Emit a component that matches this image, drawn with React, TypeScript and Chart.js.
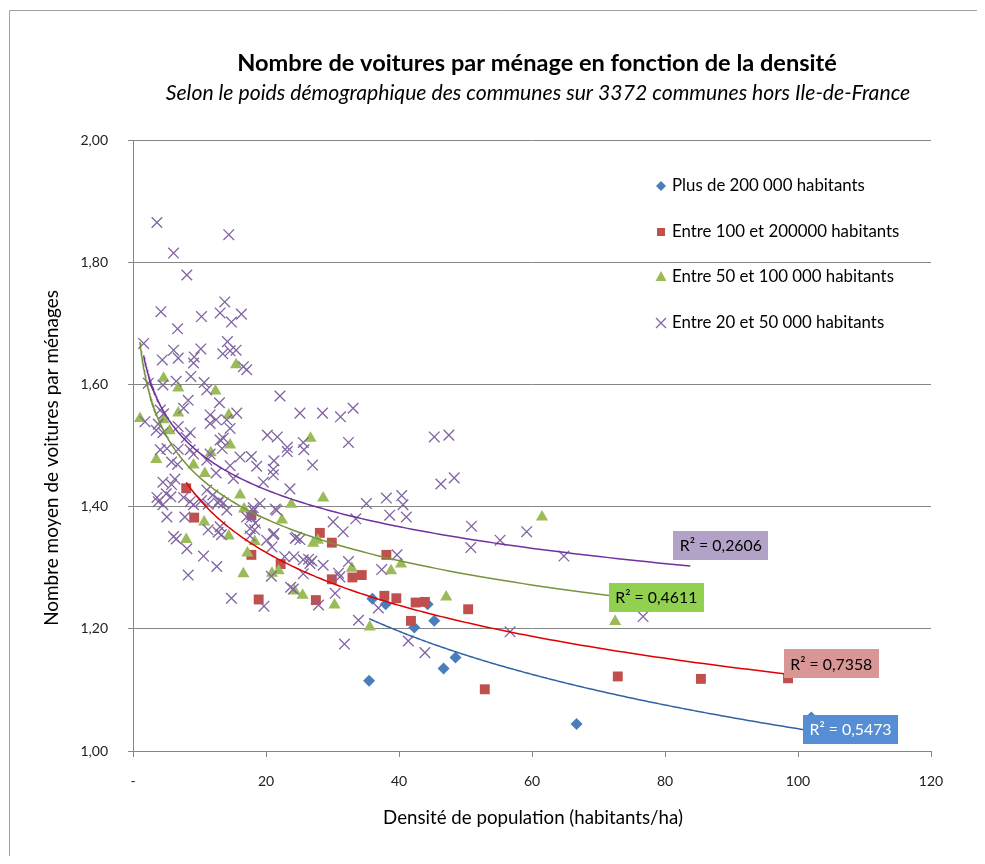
import React, { useEffect, useRef } from 'react';
import { Chart, registerables } from 'chart.js';

Chart.register(...registerables);

const FONT = 'Lato, "Open Sans", "DejaVu Sans", sans-serif';

const TITLE = 'Nombre de voitures par ménage en fonction de la densité';
const SUBTITLE = 'Selon le poids démographique des communes sur 3372 communes hors Ile-de-France';
const X_TITLE = 'Densité de population (habitants/ha)';
const Y_TITLE = 'Nombre moyen de voitures par ménages';

const SERIES_LABELS = [
  'Plus de 200 000 habitants',
  'Entre 100 et 200000 habitants',
  'Entre 50 et 100 000 habitants',
  'Entre 20 et 50 000 habitants',
];
const R2_TEXTS = ['R² = 0,5473', 'R² = 0,7358', 'R² = 0,4611', 'R² = 0,2606'];
// centre of each R² label, in data units
const R2_LABEL_X = [107.9, 105.0, 78.7, 88.4];
const R2_LABEL_Y = [1.036, 1.143, 1.252, 1.337];

const X_TICKS = [0, 20, 40, 60, 80, 100, 120];
const Y_TICKS = [1.0, 1.2, 1.4, 1.6, 1.8, 2.0];

// Plus de 200 000 habitants
const BIG_X = [35.5, 36.0, 38.0, 42.3, 44.3, 45.3, 46.7, 48.5, 66.7, 102.0];
const BIG_Y = [1.115, 1.249, 1.240, 1.202, 1.240, 1.213, 1.135, 1.153, 1.044, 1.055];

// Entre 100 et 200000 habitants
const LARGE_X = [8.0, 9.2, 17.8, 17.8, 18.9, 22.2, 27.5, 28.1, 29.9, 29.9, 33.0, 34.4, 37.8, 38.1, 39.6, 41.8, 42.5, 43.9, 50.4, 52.9, 72.9, 85.4, 98.5];
const LARGE_Y = [1.430, 1.382, 1.386, 1.321, 1.248, 1.306, 1.247, 1.357, 1.341, 1.281, 1.284, 1.288, 1.254, 1.321, 1.250, 1.213, 1.243, 1.244, 1.232, 1.101, 1.122, 1.118, 1.119];

// Entre 50 et 100 000 habitants
const MEDIUM_X = [1.05, 3.5, 4.6, 4.6, 5.5, 6.8, 6.8, 8.0, 9.1, 10.7, 10.8, 11.7, 12.4, 14.4, 14.4, 14.6, 15.5, 16.1, 16.7, 16.6, 17.2, 18.3, 20.9, 21.9, 22.4, 23.8, 24.3, 25.5, 26.7, 27.1, 27.8, 28.6, 30.3, 32.9, 35.6, 38.8, 40.3, 47.1, 61.5, 72.5];
const MEDIUM_Y = [1.544, 1.477, 1.610, 1.542, 1.524, 1.594, 1.553, 1.346, 1.468, 1.375, 1.454, 1.488, 1.589, 1.550, 1.352, 1.501, 1.632, 1.419, 1.396, 1.290, 1.324, 1.343, 1.291, 1.295, 1.378, 1.404, 1.262, 1.255, 1.512, 1.340, 1.345, 1.414, 1.239, 1.299, 1.203, 1.295, 1.306, 1.252, 1.383, 1.212];

// Entre 20 et 50 000 habitants
const SMALL_X = [
  3.6, 14.4, 6.1, 8.1, 4.2, 6.7, 10.3, 13.8, 13.1, 14.8,
  16.3, 1.6, 4.4, 6.1, 6.8, 9.2, 9.1, 10.2, 13.5, 14.2,
  14.6, 15.5, 16.6, 17.1, 8.7, 6.5, 22.1, 10.7, 11.1, 2.3,
  4.5, 8.3, 13.0, 4.1, 4.6, 7.6, 25.1, 28.5, 31.2, 33.1,
  11.6, 12.5, 15.6, 14.1, 1.8, 3.8, 3.5, 6.8, 11.6, 14.6,
  4.5, 8.6, 8.0, 20.2, 21.7, 13.1, 13.6, 23.2, 23.2, 25.6,
  25.7, 32.4, 27.0, 4.1, 5.1, 6.8, 8.6, 9.1, 11.6, 13.4,
  5.8, 6.7, 11.1, 16.1, 17.8, 18.6, 21.2, 21.1, 21.1, 14.6,
  12.5, 15.1, 4.5, 5.8, 6.3, 19.6, 23.6, 3.6, 5.0, 5.7,
  7.6, 11.1, 12.0, 10.3, 4.5, 9.1, 13.0, 14.1, 19.1, 18.1,
  21.4, 17.1, 5.1, 7.8, 18.4, 13.1, 12.8, 13.3, 11.3, 6.1,
  6.5, 8.1, 10.6, 12.6, 8.3, 14.8, 19.7, 20.1, 21.1, 20.9,
  24.4, 22.8, 25.6, 26.6, 26.9, 28.6, 31.1, 30.9, 24.1, 23.7,
  30.1, 31.6, 32.4, 35.1, 38.1, 38.6, 40.4, 40.6, 37.4, 36.9,
  33.9, 30.4, 27.9, 45.3, 47.5, 46.3, 48.3, 50.9, 50.8, 55.2,
  59.2, 64.8, 56.7, 76.7, 41.4, 43.9, 31.8, 33.5, 41.1, 3.8,
  8.6, 11.3, 12.8, 13.6, 17.8, 17.6, 18.3, 17.6, 21.2, 20.8,
  18.1, 24.6, 21.6, 39.7, 25.6, 26.4, 25.1, 24.2, 83.8,
];
const SMALL_Y = [
  1.865, 1.845, 1.815, 1.779, 1.719, 1.691, 1.711, 1.735, 1.717, 1.702,
  1.715, 1.667, 1.640, 1.656, 1.643, 1.645, 1.635, 1.658, 1.650, 1.670,
  1.655, 1.656, 1.629, 1.624, 1.613, 1.605, 1.581, 1.603, 1.591, 1.602,
  1.599, 1.574, 1.570, 1.558, 1.552, 1.561, 1.553, 1.553, 1.547, 1.561,
  1.550, 1.542, 1.553, 1.542, 1.539, 1.535, 1.525, 1.531, 1.536, 1.528,
  1.521, 1.521, 1.513, 1.517, 1.514, 1.509, 1.512, 1.497, 1.490, 1.505,
  1.493, 1.505, 1.468, 1.493, 1.495, 1.494, 1.493, 1.486, 1.486, 1.495,
  1.473, 1.469, 1.476, 1.481, 1.482, 1.466, 1.475, 1.461, 1.452, 1.467,
  1.455, 1.446, 1.440, 1.436, 1.445, 1.440, 1.429, 1.415, 1.421, 1.416,
  1.415, 1.427, 1.419, 1.410, 1.403, 1.403, 1.410, 1.394, 1.405, 1.398,
  1.396, 1.383, 1.383, 1.383, 1.373, 1.367, 1.358, 1.354, 1.362, 1.351,
  1.347, 1.331, 1.319, 1.302, 1.288, 1.250, 1.237, 1.345, 1.354, 1.334,
  1.348, 1.318, 1.313, 1.307, 1.311, 1.304, 1.285, 1.291, 1.265, 1.268,
  1.375, 1.359, 1.310, 1.405, 1.414, 1.386, 1.418, 1.403, 1.297, 1.234,
  1.214, 1.258, 1.239, 1.514, 1.517, 1.437, 1.447, 1.368, 1.333, 1.345,
  1.359, 1.319, 1.195, 1.220, 1.180, 1.161, 1.175, 1.380, 1.383, 1.408,
  1.408, 1.404, 1.406, 1.406, 1.382, 1.364, 1.362, 1.352, 1.356, 1.286,
  1.393, 1.350, 1.394, 1.321, 1.290, 1.314, 1.346, 1.318, 1.340,
];

const SERIES_X = [BIG_X, LARGE_X, MEDIUM_X, SMALL_X];
const SERIES_Y = [BIG_Y, LARGE_Y, MEDIUM_Y, SMALL_Y];

// styles
const MARKER_COLORS = ['#4a7ebb', '#c0504d', '#9bbb59', '#8064a2'];
const TREND_COLORS = ['#2f64a3', '#e00000', '#76933c', '#7030a0'];
const LABEL_FILLS = ['#558ed5', '#d99694', '#92d050', '#b3a2c7'];
const LABEL_TEXT = ['#ffffff', '#000000', '#000000', '#000000'];
const POINT_STYLES = ['rectRot', 'rect', 'triangle', 'crossRot'];
const POINT_RADII = [6, 7, 7, 7.5];

// canvas sits inside the body margin: page coordinates = canvas + OFF
const OFF = 8;
const CANVAS_W = 977;
const CANVAS_H = 848;

function logFit(xs: number[], ys: number[]) {
  const n = xs.length;
  const lx = xs.map((v) => Math.log(v));
  const mx = lx.reduce((s, v) => s + v, 0) / n;
  const my = ys.reduce((s, v) => s + v, 0) / n;
  let sxy = 0;
  let sxx = 0;
  for (let i = 0; i < n; i++) {
    sxy += (lx[i] - mx) * (ys[i] - my);
    sxx += (lx[i] - mx) * (lx[i] - mx);
  }
  const a = sxy / sxx;
  return { a, b: my - a * mx };
}

function trendline(xs: number[], ys: number[]) {
  const { a, b } = logFit(xs, ys);
  const lo = Math.min(...xs);
  const hi = Math.max(...xs);
  const pts: { x: number; y: number }[] = [];
  const N = 200;
  for (let i = 0; i <= N; i++) {
    const x = lo * Math.pow(hi / lo, i / N);
    pts.push({ x, y: a * Math.log(x) + b });
  }
  return pts;
}

function fitSize(ctx: CanvasRenderingContext2D, text: string, style: string, target: number) {
  const base = 20;
  ctx.font = `${style} ${base}px ${FONT}`;
  const w = ctx.measureText(text).width;
  return (base * target) / w;
}

function drawMarker(ctx: CanvasRenderingContext2D, kind: number, x: number, y: number) {
  ctx.save();
  ctx.fillStyle = MARKER_COLORS[kind];
  ctx.strokeStyle = MARKER_COLORS[kind];
  ctx.beginPath();
  if (kind === 0) {
    const r = 5;
    ctx.moveTo(x - r, y);
    ctx.lineTo(x, y - r);
    ctx.lineTo(x + r, y);
    ctx.lineTo(x, y + r);
    ctx.closePath();
    ctx.fill();
  } else if (kind === 1) {
    ctx.rect(x - 4, y - 4, 8, 8);
    ctx.fill();
  } else if (kind === 2) {
    ctx.moveTo(x, y - 6);
    ctx.lineTo(x + 5.5, y + 4);
    ctx.lineTo(x - 5.5, y + 4);
    ctx.closePath();
    ctx.fill();
  } else {
    const r = 5;
    ctx.lineWidth = 1.2;
    ctx.moveTo(x - r, y - r);
    ctx.lineTo(x + r, y + r);
    ctx.moveTo(x + r, y - r);
    ctx.lineTo(x - r, y + r);
    ctx.stroke();
  }
  ctx.restore();
}

const overlayPlugin = {
  id: 'overlay',
  beforeDraw(chart: any) {
    const ctx: CanvasRenderingContext2D = chart.ctx;
    ctx.save();
    ctx.fillStyle = '#ffffff';
    ctx.fillRect(0, 0, chart.width, chart.height);
    ctx.translate(-OFF, -OFF);
    ctx.strokeStyle = '#a0a0a0';
    ctx.lineWidth = 1;
    ctx.beginPath();
    ctx.moveTo(9.5, 900);
    ctx.lineTo(9.5, 10.5);
    ctx.lineTo(1000, 10.5);
    ctx.stroke();
    ctx.restore();
  },
  afterDraw(chart: any) {
    const ctx: CanvasRenderingContext2D = chart.ctx;
    const xs = chart.scales.x;
    const ys = chart.scales.y;
    ctx.save();
    ctx.translate(-OFF, -OFF);
    ctx.fillStyle = '#000';
    ctx.textAlign = 'center';
    ctx.textBaseline = 'middle';

    let s = fitSize(ctx, TITLE, 'bold', 600);
    ctx.font = `bold ${s}px ${FONT}`;
    ctx.fillText(TITLE, 537, 63);

    s = fitSize(ctx, SUBTITLE, 'italic', 745);
    ctx.font = `italic ${s}px ${FONT}`;
    ctx.fillText(SUBTITLE, 538, 93);

    s = fitSize(ctx, X_TITLE, 'normal', 300);
    ctx.font = `normal ${s}px ${FONT}`;
    ctx.fillText(X_TITLE, 533, 818);

    s = fitSize(ctx, Y_TITLE, 'normal', 336);
    ctx.save();
    ctx.translate(52, 458);
    ctx.rotate(-Math.PI / 2);
    ctx.font = `normal ${s}px ${FONT}`;
    ctx.fillText(Y_TITLE, 0, 0);
    ctx.restore();

    // legend
    const legY = [186, 232, 277, 323];
    s = fitSize(ctx, SERIES_LABELS[0], 'normal', 193);
    ctx.font = `normal ${s}px ${FONT}`;
    ctx.textAlign = 'left';
    for (let i = 0; i < 4; i++) {
      drawMarker(ctx, i, 661, legY[i]);
      ctx.fillStyle = '#000';
      ctx.fillText(SERIES_LABELS[i], 672, legY[i]);
    }

    // R² labels (positioned through the scales, in data units)
    s = fitSize(ctx, R2_TEXTS[3], 'normal', 82);
    ctx.font = `normal ${s}px ${FONT}`;
    ctx.textAlign = 'center';
    for (let i = 0; i < 4; i++) {
      const cx = xs.getPixelForValue(R2_LABEL_X[i]) + OFF;
      const cy = ys.getPixelForValue(R2_LABEL_Y[i]) + OFF;
      const w = ctx.measureText(R2_TEXTS[i]).width + 13;
      const h = 29;
      ctx.fillStyle = LABEL_FILLS[i];
      ctx.fillRect(Math.round(cx - w / 2), Math.round(cy - h / 2), Math.round(w), h);
      ctx.fillStyle = LABEL_TEXT[i];
      ctx.fillText(R2_TEXTS[i], cx, cy + 1);
    }
    ctx.restore();
  },
};

export default function App() {
  const ref = useRef<HTMLCanvasElement>(null);

  useEffect(() => {
    const canvas = ref.current;
    if (!canvas) return;

    const scatterSets = SERIES_LABELS.map((label, i) => ({
      label,
      data: SERIES_X[i].map((x, k) => ({ x, y: SERIES_Y[i][k] })),
      pointStyle: POINT_STYLES[i],
      pointRadius: POINT_RADII[i],
      backgroundColor: i === 3 ? 'rgba(0,0,0,0)' : MARKER_COLORS[i],
      borderColor: MARKER_COLORS[i],
      borderWidth: i === 3 ? 1.3 : 0,
      showLine: false,
      order: 4 - i,
    }));

    const trendSets = SERIES_LABELS.map((label, i) => ({
      label: label + ' (tendance)',
      data: trendline(SERIES_X[i], SERIES_Y[i]),
      showLine: true,
      pointRadius: 0,
      borderColor: TREND_COLORS[i],
      borderWidth: 1.5,
      fill: false,
      tension: 0,
      order: 0,
    }));

    const tickFont = { family: FONT, size: 14 };

    // plot area in page coordinates: x 133..931, y 140..751
    const chart = new Chart(canvas, {
      type: 'scatter',
      data: { datasets: [...scatterSets, ...trendSets] as any },
      options: {
        responsive: false,
        animation: false,
        devicePixelRatio: 1,
        layout: { padding: { top: 140 - OFF, right: CANVAS_W - (931 - OFF), bottom: 0, left: 0 } },
        plugins: {
          legend: { display: false },
          title: { display: false },
          tooltip: { enabled: false },
        },
        scales: {
          x: {
            type: 'linear',
            position: 'bottom',
            min: 0,
            max: 120,
            afterBuildTicks: (sc: any) => {
              sc.ticks = X_TICKS.map((v) => ({ value: v }));
            },
            afterFit: (sc: any) => {
              sc.height = CANVAS_H - (751 - OFF);
            },
            ticks: {
              font: tickFont,
              color: '#222',
              padding: 16,
              maxRotation: 0,
              autoSkip: false,
              callback: (v: any) => (Number(v) === 0 ? '-' : String(v)),
            },
            grid: { drawOnChartArea: false, drawTicks: true, tickLength: 6, color: '#868686', lineWidth: 1 },
            border: { display: true, color: '#868686', width: 1 },
          },
          y: {
            type: 'linear',
            min: 1,
            max: 2,
            afterBuildTicks: (sc: any) => {
              sc.ticks = Y_TICKS.map((v) => ({ value: v }));
            },
            afterFit: (sc: any) => {
              sc.width = 133 - OFF;
            },
            ticks: {
              font: tickFont,
              color: '#222',
              padding: 20,
              callback: (v: any) => Number(v).toFixed(2).replace('.', ','),
            },
            grid: { color: '#868686', tickLength: 5, lineWidth: 1 },
            border: { display: true, color: '#868686', width: 1 },
          },
        },
      } as any,
      plugins: [overlayPlugin],
    });

    return () => chart.destroy();
  }, []);

  return (
    <canvas
      ref={ref}
      width={CANVAS_W}
      height={CANVAS_H}
      style={{ display: 'block', width: CANVAS_W, height: CANVAS_H }}
    />
  );
}
